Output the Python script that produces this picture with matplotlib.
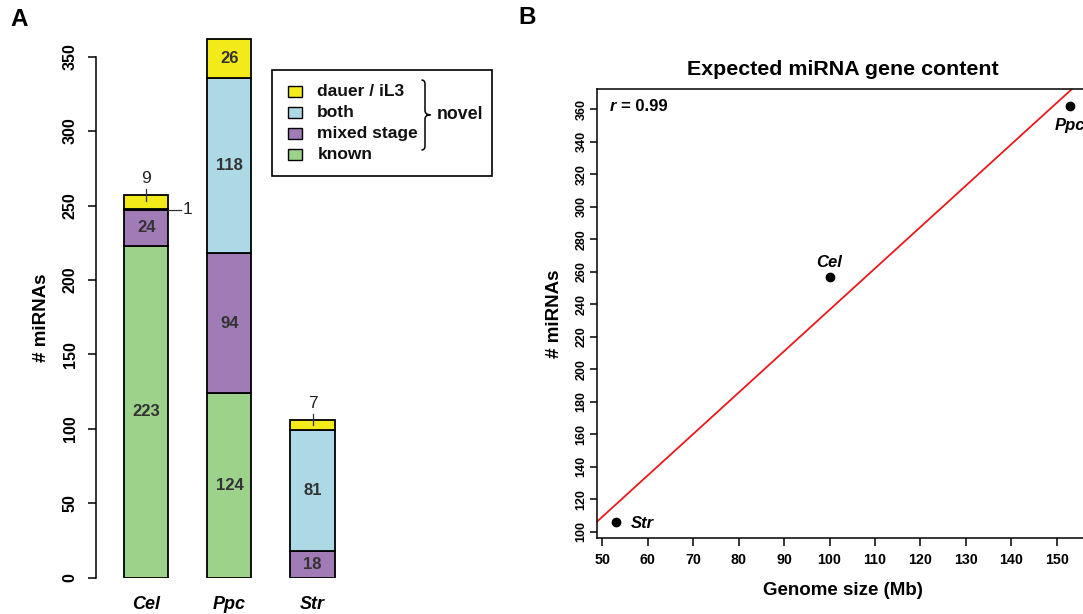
import matplotlib
matplotlib.use("Agg")
import matplotlib.pyplot as plt
import numpy as np
from matplotlib.path import Path
from matplotlib.patches import PathPatch, Rectangle

plt.rcParams['font.family'] = ['Liberation Sans', 'DejaVu Sans']

# ---------------- data ----------------
species = ['Cel', 'Ppc', 'Str']
known = [223, 124, 0]
mixed_stage = [24, 94, 18]
both = [1, 118, 81]
dauer = [9, 26, 7]

genome_size = [100, 153, 53]          # Mb
mirna_count = [257, 362, 106]
r_value = 0.99

legend_labels = ['dauer / iL3', 'both', 'mixed stage', 'known']
col_dauer = '#F3EA1A'
col_both = '#ADD8E6'
col_mixed = '#A07BB6'
col_known = '#9DD28A'

W, H = 1083, 614
fig = plt.figure(figsize=(W / 100, H / 100), dpi=100)


def fx(px):
    return px / W


def fy(py):
    return 1 - py / H


# ---------------- panel A ----------------
pxu = 1.4886  # px per miRNA
axw = (400 - 95.7) / W
axh = 370 * pxu / H
axA = fig.add_axes([fx(95.7), fy(577.7), axw, axh])
xpos = np.arange(len(species))
bw = 0.53
segments = [(known, col_known), (mixed_stage, col_mixed), (both, col_both), (dauer, col_dauer)]
bottom = np.zeros(len(species))
for vals, col in segments:
    axA.bar(xpos, vals, bw, bottom=bottom, color=col, edgecolor='black', linewidth=1.3, zorder=2)
    for i, v in enumerate(vals):
        if v >= 15:
            axA.text(xpos[i], bottom[i] + v / 2, str(v), ha='center', va='center',
                     fontsize=12, fontweight='bold', color='#333333', zorder=3)
    bottom += np.array(vals)

totals = bottom
# small top segments (dauer) labelled above with a tick
for i, v in enumerate(dauer):
    if v < 15:
        t = totals[i]
        axA.plot([xpos[i], xpos[i]], [t - 3.7, t + 3.9], color='#333333', lw=0.9, zorder=3, clip_on=False)
        axA.text(xpos[i], t + 11.3, str(v), ha='center', va='center', fontsize=12.5, color='#222222')
# small 'both' segments labelled to the side
for i, v in enumerate(both):
    if v < 10:
        yb = known[i] + mixed_stage[i] + v / 2 - 0.2
        axA.plot([xpos[i] + bw / 2, xpos[i] + 0.42], [yb, yb], color='#333333', lw=0.9, zorder=3, clip_on=False)
        axA.text(xpos[i] + 0.5, yb, str(v), ha='center', va='center', fontsize=12.5, color='#222222')

axA.set_xlim(-0.609, -0.609 + (400 - 95.7) / 83.1)
axA.set_ylim(0, 370)
for s in ['top', 'right', 'bottom']:
    axA.spines[s].set_visible(False)
axA.spines['left'].set_bounds(0, 350)
axA.spines['left'].set_linewidth(1.1)
axA.set_yticks(np.arange(0, 351, 50))
axA.tick_params(axis='y', direction='out', length=6, width=1.1, pad=7, labelsize=11.5,
                labelrotation=90)
for lab in axA.get_yticklabels():
    lab.set_fontweight('bold')
    lab.set_va('center')
axA.set_xticks(xpos)
axA.set_xticklabels(species, fontsize=13, fontweight='bold', fontstyle='italic')
axA.tick_params(axis='x', length=0, pad=13)
axA.set_ylabel('# miRNAs', fontsize=13.5, fontweight='bold')
axA.yaxis.set_label_coords((49.5 - 95.7) / (400 - 95.7), (fy(318) - fy(577.7)) / axh)

# legend (manual, to include brace)
fig.patches.append(Rectangle((fx(272.3), fy(176)), fx(491.7) - fx(272.3), fy(69.7) - fy(176),
                             transform=fig.transFigure, fill=False, edgecolor='black', lw=1.2))
leg_cols = [col_dauer, col_both, col_mixed, col_known]
row_y = [91, 112.3, 133.6, 154.8]
for lab, col, ry in zip(legend_labels, leg_cols, row_y):
    fig.patches.append(Rectangle((fx(288.3), fy(ry + 5.5)), fx(301.7) - fx(288.3), fy(ry - 5.5) - fy(ry + 5.5),
                                 transform=fig.transFigure, facecolor=col, edgecolor='black', lw=1.0))
    fig.text(fx(317.3), fy(ry), lab, ha='left', va='center', fontsize=12.5, fontweight='bold', color='#111111')

bp = [(421.5, 80), (425, 80), (425, 84), (425, 110.5), (425, 114.8), (430.5, 114.8),
      (425, 114.8), (425, 119), (425, 146), (425, 150), (421.5, 150)]
codes = [Path.MOVETO, Path.CURVE3, Path.CURVE3, Path.LINETO, Path.CURVE3, Path.CURVE3,
         Path.CURVE3, Path.CURVE3, Path.LINETO, Path.CURVE3, Path.CURVE3]
brace = Path([(fx(x), fy(y)) for x, y in bp], codes)
fig.patches.append(PathPatch(brace, transform=fig.transFigure, fill=False, edgecolor='black', lw=1.1))
fig.text(fx(437), fy(114.8), 'novel', ha='left', va='center', fontsize=12.8, fontweight='bold', color='#111111')

fig.text(fx(10), fy(20), 'A', ha='left', va='center', fontsize=17.5, fontweight='bold')

# ---------------- panel B ----------------
xr = 48.7 + (1089.5 - 596.5) / 4.543
axB = fig.add_axes([fx(596.5), fy(538.3), (1089.5 - 596.5) / W, (538.3 - 89) / H])
axB.scatter(genome_size, mirna_count, s=36, color='black', zorder=3, clip_on=False)
slope, intercept = np.polyfit(genome_size, mirna_count, 1)
xl = np.array([40, 170])
axB.plot(xl, slope * xl + intercept, color='#E8191C', lw=1.3, zorder=2)
axB.set_xlim(48.7, xr)
axB.set_ylim(95.9, 372.5)
axB.set_xticks(np.arange(50, 151, 10))
axB.set_yticks(np.arange(100, 361, 20))
axB.tick_params(axis='x', direction='out', length=6, width=1.1, pad=4.5, labelsize=10.3)
axB.tick_params(axis='y', direction='out', length=5, width=1.1, pad=1.5, labelsize=9, labelrotation=90)
for lab in axB.get_xticklabels() + axB.get_yticklabels():
    lab.set_fontweight('bold')
for lab in axB.get_yticklabels():
    lab.set_va('center')
for s in axB.spines.values():
    s.set_linewidth(1.1)
axB.set_title('Expected miRNA gene content', fontsize=15.4, fontweight='bold', pad=10)
axB.set_xlabel('Genome size (Mb)', fontsize=13.5, fontweight='bold', labelpad=11)
axB.set_ylabel('# miRNAs', fontsize=13.5, fontweight='bold', labelpad=9)

offsets = {'Cel': ((0, 6.7), 'center', 'baseline'),
           'Ppc': ((0, -17.5), 'center', 'baseline'),
           'Str': ((10.8, -4.75), 'left', 'baseline')}
for name, gx, gy in zip(species, genome_size, mirna_count):
    off, ha, va = offsets[name]
    axB.annotate(name, (gx, gy), xytext=off, textcoords='offset points', ha=ha, va=va,
                 fontsize=12, fontweight='bold', fontstyle='italic', annotation_clip=False)

axB.text(51.7, 362.0, 'r', ha='left', va='center', fontsize=12, fontweight='bold', fontstyle='italic')
axB.text(54.1, 362.0, '= %.2f' % r_value, ha='left', va='center', fontsize=12, fontweight='bold')

fig.text(fx(518), fy(18), 'B', ha='left', va='center', fontsize=17.5, fontweight='bold')

fig.savefig('out.png', dpi=100)
